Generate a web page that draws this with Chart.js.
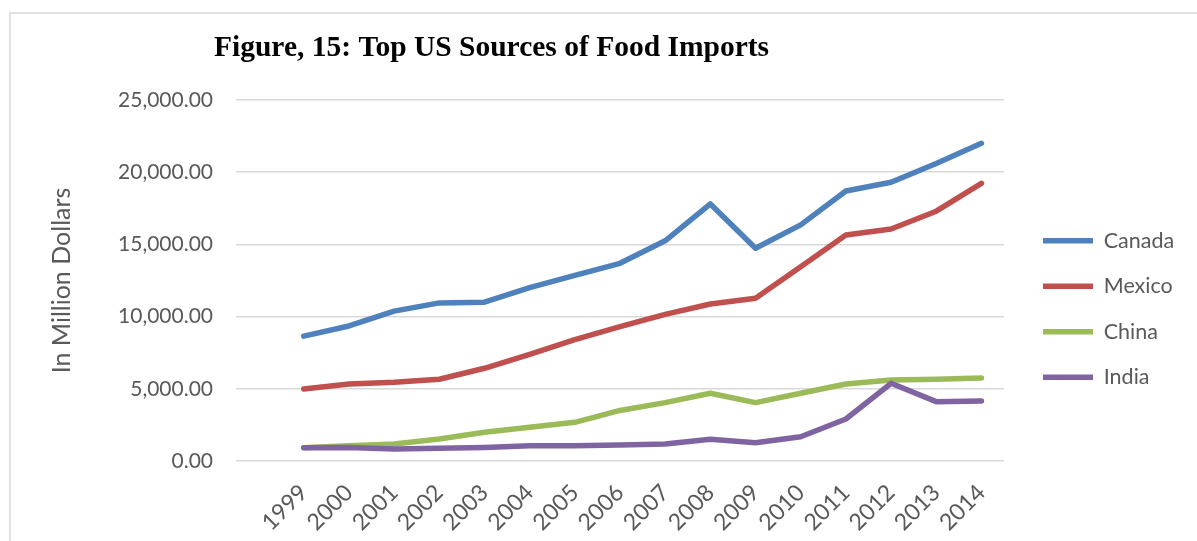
<!DOCTYPE html>
<html lang="en">
<head>
    <meta charset="UTF-8">
    <title>Top US Sources of Food Imports</title>
    <script src="https://cdn.jsdelivr.net/npm/chart.js"></script>
    <style>
        body { margin: 0; background: #fff; }
    </style>
</head>
<body>
    <canvas id="chartImports" width="1197" height="541"></canvas>
</body>
</html>
<script>
    const years = ['1999', '2000', '2001', '2002', '2003', '2004', '2005', '2006',
                   '2007', '2008', '2009', '2010', '2011', '2012', '2013', '2014'];

    // values in million dollars
    const canada = [8650, 9350, 10380, 10950, 11000, 12000, 12850, 13690,
                    15250, 17800, 14730, 16350, 18700, 19300, 20600, 22000];
    const mexico = [4980, 5330, 5450, 5660, 6420, 7390, 8400, 9300,
                    10150, 10870, 11270, 13450, 15650, 16070, 17300, 19230];
    const china = [920, 1060, 1180, 1520, 1990, 2330, 2680, 3500,
                   4040, 4690, 4040, 4690, 5330, 5610, 5660, 5750];
    const india = [920, 930, 830, 880, 940, 1060, 1060, 1110,
                   1180, 1500, 1270, 1680, 2910, 5380, 4110, 4150];

    const yTicks = [0, 5000, 10000, 15000, 20000, 25000];

    // the category axis starts with one empty slot before 1999
    const labels = [''].concat(years);
    const pad = arr => [null].concat(arr);

    const textColor = '#595959';

    // light grey frame along the top and left edge
    const framePlugin = {
        id: 'frame',
        beforeDraw(chart) {
            const ctx = chart.ctx;
            ctx.save();
            ctx.strokeStyle = '#d9d9d9';
            ctx.lineWidth = 1.5;
            ctx.beginPath();
            ctx.moveTo(10, chart.height);
            ctx.lineTo(10, 13);
            ctx.lineTo(chart.width, 13);
            ctx.stroke();
            ctx.restore();
        }
    };

    // move title and legend to their spots once the layout is done
    const placeBoxes = {
        id: 'placeBoxes',
        afterLayout(chart) {
            const t = chart.titleBlock;
            t.left = 214;

            const lg = chart.legend;
            const w = lg.width, h = lg.height;
            lg.left = 1019;
            lg.right = lg.left + w;
            lg.top = 206;
            lg.bottom = lg.top + h;
        }
    };

    function makeSet(label, data, color, order) {
        return {
            label: label,
            data: pad(data),
            borderColor: color,
            backgroundColor: color,
            borderWidth: 5.5,
            borderCapStyle: 'round',
            borderJoinStyle: 'round',
            pointRadius: 0,
            pointHoverRadius: 0,
            tension: 0,
            order: order
        };
    }

    const importsChartConfig = {
        type: 'line',
        data: {
            labels: labels,
            datasets: [
                makeSet('Canada', canada, '#4F81BD', 4),
                makeSet('Mexico', mexico, '#C0504D', 3),
                makeSet('China', china, '#9BBB59', 2),
                makeSet('India', india, '#8064A2', 1)
            ]
        },
        options: {
            responsive: false,
            animation: false,
            layout: {
                padding: { left: 10, right: 193, top: 0, bottom: 0 }
            },
            plugins: {
                title: {
                    display: true,
                    text: 'Figure, 15: Top US Sources of Food Imports',
                    align: 'start',
                    color: '#000',
                    font: { family: 'Liberation Serif', size: 29.5, weight: 'bold' },
                    padding: { top: 31, bottom: 33.6 }
                },
                legend: {
                    position: 'chartArea',
                    align: 'start',
                    labels: {
                        usePointStyle: true,
                        pointStyle: 'line',
                        pointStyleWidth: 50,
                        padding: 24,
                        color: textColor,
                        font: { family: 'Lato', size: 21.5 },
                        sort: (a, b) => a.datasetIndex - b.datasetIndex
                    }
                },
                tooltip: { enabled: false }
            },
            scales: {
                x: {
                    offset: true,
                    grid: { display: false },
                    border: { display: false },
                    ticks: {
                        color: textColor,
                        font: { family: 'Lato', size: 23 },
                        autoSkip: false,
                        maxRotation: 45,
                        minRotation: 45,
                        padding: 10
                    },
                    afterFit(scale) { scale.height = 80; }
                },
                y: {
                    min: 0,
                    max: 25000,
                    border: { display: false },
                    grid: { color: '#d9d9d9', lineWidth: 1.5, drawTicks: false },
                    afterBuildTicks(scale) {
                        scale.ticks = yTicks.map(v => ({ value: v }));
                    },
                    ticks: {
                        color: textColor,
                        font: { family: 'Lato', size: 21 },
                        padding: 23,
                        callback: v => v.toLocaleString('en-US', { minimumFractionDigits: 2, maximumFractionDigits: 2 })
                    },
                    title: {
                        display: true,
                        text: 'In Million Dollars',
                        color: textColor,
                        font: { family: 'Lato', size: 25 },
                        padding: { top: 37, bottom: 0 }
                    },
                    afterFit(scale) { scale.width = 226; }
                }
            }
        },
        plugins: [framePlugin, placeBoxes]
    };

    const importsChart = new Chart(
        document.getElementById('chartImports'),
        importsChartConfig
    );
</script>
